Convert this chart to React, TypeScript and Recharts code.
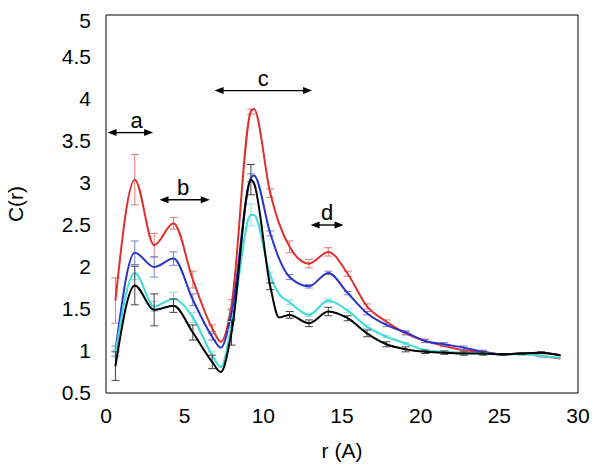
import { LineChart, Line, XAxis, YAxis, ErrorBar, ReferenceLine } from 'recharts';

// sample positions (r in Angstrom); 7.3, 9.4 and 11.0 are extra read-offs at the turning points
const R = [0.6, 1.83, 3.06, 4.29, 5.52, 6.75, 7.3, 7.98, 9.21, 9.4, 10.44, 11.0, 11.67, 12.9, 14.13, 15.36, 16.59, 17.82, 19.05, 20.28, 21.51, 22.74, 23.97, 25.2, 26.43, 27.66, 28.89];

const RED = [1.6, 3.04, 2.26, 2.52, 1.85, 1.27, 1.11, 1.55, 3.85, 3.88, 2.88, 2.52, 2.24, 2.04, 2.18, 1.92, 1.53, 1.35, 1.21, 1.12, 1.06, 1.01, 0.99, 0.96, 0.97, 0.94, 0.91];
const RED_ERR = [0.27, 0.3, 0.14, 0.07, 0.1, 0.04, null, 0.06, 0.03, null, 0.05, null, 0.07, 0.05, 0.05, 0.03, 0.03, 0.02, 0.02, 0.02, 0.01, 0.01, 0.01, 0.01, 0.01, 0.01, null];

const BLUE = [1.0, 2.17, 2.0, 2.1, 1.61, 1.17, 1.04, 1.45, 3.06, 3.09, 2.4, 2.1, 1.88, 1.77, 1.93, 1.69, 1.45, 1.31, 1.22, 1.12, 1.08, 1.04, 0.99, 0.96, 0.97, 0.98, 0.95];
const BLUE_ERR = [0.06, 0.14, 0.12, 0.08, 0.07, 0.04, null, 0.05, 0.05, null, 0.03, null, 0.03, 0.02, 0.02, 0.02, 0.02, 0.02, 0.02, 0.02, 0.02, 0.02, 0.02, 0.01, 0.01, 0.01, null];

const CYAN = [0.97, 1.93, 1.53, 1.62, 1.4, 0.95, 0.81, 1.3, 2.62, 2.62, 1.9, 1.68, 1.58, 1.43, 1.6, 1.48, 1.29, 1.17, 1.09, 1.01, 0.99, 0.98, 0.97, 0.96, 0.96, 0.94, 0.92];
const CYAN_ERR = [0.04, 0.08, 0.06, 0.08, 0.06, 0.04, null, 0.05, 0.13, null, 0.04, null, 0.03, 0.02, 0.02, 0.02, 0.02, 0.01, 0.01, 0.01, 0.01, 0.01, 0.01, 0.01, 0.01, 0.01, null];

const BLACK = [0.82, 1.78, 1.49, 1.54, 1.22, 0.87, 0.75, 1.22, 3.04, 3.0, 1.77, 1.4, 1.43, 1.33, 1.47, 1.39, 1.21, 1.08, 1.02, 0.99, 0.98, 0.97, 0.97, 0.96, 0.97, 0.98, 0.95];
const BLACK_ERR = [0.17, 0.23, 0.19, 0.08, 0.09, 0.08, null, 0.15, 0.18, null, 0.04, null, 0.04, 0.04, 0.05, 0.03, 0.04, 0.03, 0.03, 0.02, 0.02, 0.02, 0.02, 0.01, 0.01, 0.01, null];

const X_TICKS = [0, 5, 10, 15, 20, 25, 30];
const Y_TICKS = [0.5, 1, 1.5, 2, 2.5, 3, 3.5, 4, 4.5, 5];

// double arrows marking the regions
const ANNOT_LABELS = ['a', 'b', 'c', 'd'];
const ANNOT_FROM = [0.1, 3.4, 6.9, 13.0];
const ANNOT_TO = [3.0, 6.6, 13.1, 15.1];
const ANNOT_Y = [3.6, 2.8, 4.1, 2.5];
const ANNOT_LABEL_R = [1.95, 4.9, 10.0, 14.05];

const data = R.map((r, i) => ({
  r,
  red: RED[i],
  redErr: RED_ERR[i],
  blue: BLUE[i],
  blueErr: BLUE_ERR[i],
  cyan: CYAN[i],
  cyanErr: CYAN_ERR[i],
  black: BLACK[i],
  blackErr: BLACK_ERR[i],
}));

const FONT = '"Liberation Sans", Arial, sans-serif';

const arrowShape = (text: string, from: number, to: number, labelR: number) => (p: any) => {
  const { x1, y1, x2, y2 } = p;
  const head = 9;
  const hw = 3.5;
  const lx = x1 + ((labelR - from) / (to - from)) * (x2 - x1);
  return (
    <g>
      <line x1={x1 + head - 1} y1={y1} x2={x2 - head + 1} y2={y2} stroke="#000" strokeWidth={1.4} />
      <path d={`M${x1},${y1} L${x1 + head},${y1 - hw} L${x1 + head},${y1 + hw} Z`} fill="#000" />
      <path d={`M${x2},${y2} L${x2 - head},${y2 - hw} L${x2 - head},${y2 + hw} Z`} fill="#000" />
      <text x={lx} y={y1 - 5} textAnchor="middle" fontSize={22} fontFamily={FONT} fill="#000">
        {text}
      </text>
    </g>
  );
};

const YLabel = (props: any) => {
  const vb = props.viewBox;
  const x = vb.x + 15;
  const y = vb.y + vb.height / 2;
  return (
    <text x={x} y={y} transform={`rotate(-90 ${x} ${y})`} textAnchor="middle" fontSize={21} fontFamily={FONT} fill="#000">
      C(r)
    </text>
  );
};

export default function App() {
  const series = [
    { key: 'red', err: 'redErr', color: '#e0302c', errColor: '#e87a78' },
    { key: 'blue', err: 'blueErr', color: '#2a35c8', errColor: '#7a80cc' },
    { key: 'cyan', err: 'cyanErr', color: '#3cdcdc', errColor: '#8ee0e0' },
    { key: 'black', err: 'blackErr', color: '#000000', errColor: '#444444' },
  ];

  return (
    <LineChart
      width={592}
      height={463}
      data={data}
      margin={{ top: 7, right: 22, bottom: 8, left: 0 }}
      style={{ fontFamily: FONT }}
    >
      <XAxis
        xAxisId="x"
        dataKey="r"
        type="number"
        domain={[0, 30]}
        ticks={X_TICKS}
        allowDataOverflow
        height={70}
        tickSize={0}
        tickMargin={15}
        tickLine={false}
        axisLine={{ stroke: '#000' }}
        tick={{ fill: '#000', fontSize: 21 }}
        label={{ value: 'r (A)', position: 'insideBottom', offset: 5, fill: '#000', fontSize: 21 }}
      />
      <XAxis
        xAxisId="xin"
        dataKey="r"
        type="number"
        domain={[0, 30]}
        ticks={X_TICKS}
        allowDataOverflow
        mirror
        tick={false}
        tickSize={6}
        tickLine={{ stroke: '#000' }}
        axisLine={false}
      />
      <XAxis
        xAxisId="xtop"
        orientation="top"
        dataKey="r"
        type="number"
        domain={[0, 30]}
        ticks={X_TICKS}
        allowDataOverflow
        mirror
        tick={false}
        tickSize={6}
        tickLine={{ stroke: '#000' }}
        axisLine={{ stroke: '#000' }}
      />
      <YAxis
        yAxisId="y"
        type="number"
        domain={[0.5, 5]}
        ticks={Y_TICKS}
        allowDataOverflow
        width={98}
        tickSize={0}
        tickMargin={15}
        tickLine={false}
        axisLine={{ stroke: '#000' }}
        tick={{ fill: '#000', fontSize: 21 }}
        label={(p: any) => <YLabel {...p} />}
      />
      <YAxis
        yAxisId="yin"
        type="number"
        domain={[0.5, 5]}
        ticks={Y_TICKS}
        allowDataOverflow
        mirror
        tick={false}
        tickSize={6}
        tickLine={{ stroke: '#000' }}
        axisLine={false}
      />
      <YAxis
        yAxisId="yright"
        orientation="right"
        type="number"
        domain={[0.5, 5]}
        ticks={Y_TICKS}
        allowDataOverflow
        mirror
        tick={false}
        tickSize={6}
        tickLine={{ stroke: '#000' }}
        axisLine={{ stroke: '#000' }}
      />

      {series.map((s) => (
        <Line
          key={s.key}
          xAxisId="x"
          yAxisId="y"
          type="monotone"
          dataKey={s.key}
          stroke={s.color}
          strokeWidth={2}
          dot={false}
          isAnimationActive={false}
        >
          <ErrorBar dataKey={s.err} width={4} stroke={s.errColor} strokeWidth={1} direction="y" isAnimationActive={false} />
        </Line>
      ))}

      {ANNOT_LABELS.map((t, i) => (
        <ReferenceLine
          key={t}
          xAxisId="x"
          yAxisId="y"
          segment={[
            { x: ANNOT_FROM[i], y: ANNOT_Y[i] },
            { x: ANNOT_TO[i], y: ANNOT_Y[i] },
          ]}
          shape={arrowShape(t, ANNOT_FROM[i], ANNOT_TO[i], ANNOT_LABEL_R[i])}
        />
      ))}
    </LineChart>
  );
}
